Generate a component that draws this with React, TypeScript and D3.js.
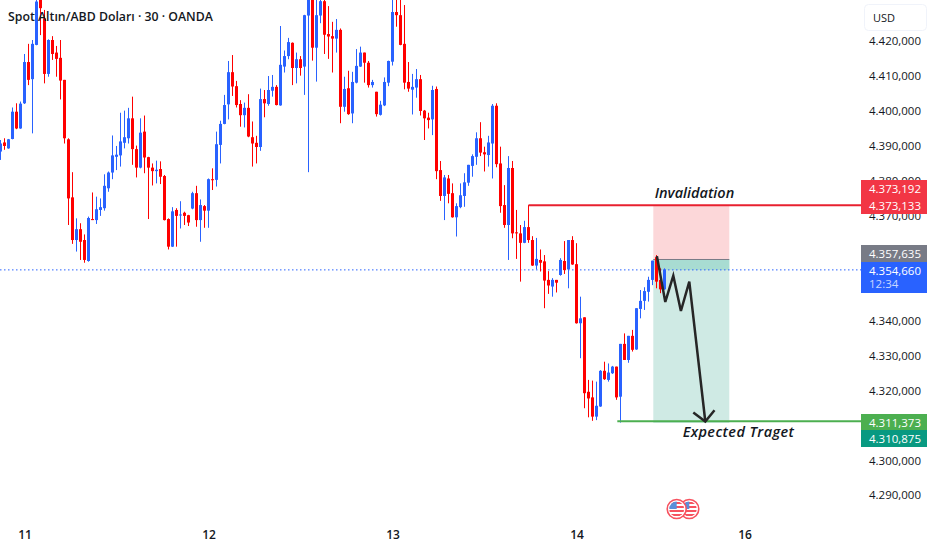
import * as React from "react";
import * as d3 from "d3";

// 30 minute candles, one entry per bar
const opens = [
    4388.5, 4391.1, 4389.4, 4392.1, 4399.9, 4395.1, 4402.3, 4414.1, 4409.2, 4419.0,
    4432.3, 4426.6, 4410.7, 4420.4, 4416.8, 4415.3, 4409.0, 4392.0, 4375.4, 4363.2,
    4366.3, 4363.2, 4357.2, 4369.2, 4368.9, 4371.8, 4372.3, 4378.0, 4382.5, 4387.0,
    4387.4, 4391.0, 4392.3, 4398.0, 4389.2, 4383.9, 4394.2, 4386.9, 4383.9, 4382.9,
    4383.5, 4381.5, 4369.2, 4361.3, 4371.8, 4370.4, 4371.0, 4370.3, 4372.2, 4376.6,
    4368.9, 4372.9, 4371.6, 4380.6, 4380.4, 4390.4, 4396.4, 4402.0, 4411.2, 4407.2,
    4402.1, 4398.9, 4401.0, 4392.6, 4391.0, 4389.8, 4403.5, 4402.1, 4405.9, 4407.0,
    4401.7, 4412.8, 4415.8, 4419.6, 4412.4, 4414.9, 4412.8, 4427.4, 4432.3, 4418.2,
    4427.4, 4431.5, 4422.1, 4421.5, 4420.8, 4423.3, 4401.3, 4406.6, 4399.4, 4408.2,
    4412.8, 4416.8, 4413.9, 4407.5, 4405.6, 4399.0, 4401.7, 4408.2, 4414.2, 4428.4,
    4427.5, 4419.3, 4408.4, 4406.2, 4406.8, 4409.2, 4400.2, 4398.2, 4397.7, 4406.4,
    4383.2, 4375.8, 4380.8, 4376.6, 4369.7, 4372.6, 4375.8, 4379.6, 4384.4, 4387.0,
    4392.3, 4388.3, 4387.5, 4390.8, 4401.6, 4385.1, 4373.2, 4367.5, 4383.8, 4365.4,
    4365.1, 4362.4, 4366.9, 4363.2, 4355.9, 4357.5, 4357.1, 4351.8, 4349.9, 4351.8,
    4353.2, 4357.2, 4354.8, 4363.2, 4356.3, 4339.4, 4341.1, 4319.8, 4318.2, 4312.7,
    4315.6, 4325.8, 4323.2, 4325.1, 4327.0, 4318.4, 4333.5, 4328.9, 4335.8, 4331.9,
    4343.5, 4345.8, 4348.4, 4351.8, 4358.3, 4351.8, 4349.1,
];
const highs = [
    4391.8, 4392.3, 4392.1, 4401.1, 4402.3, 4402.8, 4416.4, 4419.3, 4420.4, 4432.3,
    4432.8, 4429.0, 4420.6, 4421.5, 4418.7, 4420.4, 4409.0, 4392.3, 4382.6, 4369.4,
    4368.0, 4364.8, 4369.9, 4376.8, 4375.6, 4375.1, 4382.0, 4382.8, 4393.1, 4390.1,
    4399.6, 4400.2, 4401.0, 4404.2, 4390.2, 4398.0, 4398.8, 4387.0, 4385.1, 4385.9,
    4385.7, 4381.8, 4369.4, 4372.6, 4372.3, 4374.3, 4371.3, 4370.4, 4377.0, 4378.7,
    4374.8, 4373.2, 4380.8, 4383.7, 4394.2, 4397.3, 4404.7, 4414.4, 4416.1, 4408.7,
    4403.2, 4402.5, 4404.9, 4397.1, 4393.0, 4406.5, 4406.1, 4410.1, 4410.4, 4407.5,
    4424.4, 4417.4, 4421.0, 4419.7, 4416.8, 4415.8, 4427.6, 4433.7, 4432.8, 4432.8,
    4432.8, 4432.3, 4430.1, 4425.6, 4426.4, 4423.7, 4409.9, 4411.6, 4411.3, 4417.8,
    4418.5, 4416.8, 4414.4, 4409.0, 4405.6, 4403.0, 4409.7, 4414.5, 4432.3, 4432.3,
    4432.3, 4430.4, 4414.1, 4410.7, 4412.1, 4410.4, 4400.4, 4399.6, 4407.3, 4407.1,
    4385.8, 4381.8, 4381.8, 4379.4, 4373.7, 4379.4, 4382.3, 4384.7, 4387.7, 4394.0,
    4396.9, 4389.9, 4393.0, 4402.1, 4402.3, 4389.9, 4378.9, 4387.2, 4385.8, 4371.8,
    4367.5, 4368.7, 4373.2, 4364.3, 4363.8, 4360.5, 4358.9, 4354.3, 4352.3, 4351.8,
    4358.0, 4362.9, 4363.2, 4364.3, 4362.3, 4347.0, 4341.1, 4323.2, 4323.0, 4322.7,
    4326.0, 4328.4, 4327.9, 4327.2, 4327.0, 4333.5, 4336.5, 4335.8, 4337.5, 4343.7,
    4348.9, 4349.7, 4352.7, 4357.3, 4358.9, 4355.1, 4355.1,
];
const lows = [
    4386.1, 4389.0, 4389.3, 4392.0, 4394.9, 4395.0, 4402.1, 4407.5, 4393.7, 4418.9,
    4421.8, 4408.0, 4409.9, 4414.7, 4409.9, 4403.4, 4390.8, 4367.5, 4362.1, 4359.9,
    4357.5, 4356.7, 4357.0, 4368.9, 4367.8, 4370.1, 4371.6, 4377.0, 4380.6, 4383.2,
    4384.2, 4389.4, 4390.8, 4384.7, 4381.1, 4383.7, 4382.3, 4369.2, 4378.8, 4379.4,
    4379.2, 4368.8, 4360.5, 4361.2, 4361.3, 4366.5, 4367.5, 4367.2, 4372.0, 4367.0,
    4362.7, 4366.7, 4366.7, 4377.5, 4378.5, 4385.1, 4396.3, 4397.7, 4404.4, 4401.1,
    4395.6, 4395.4, 4392.6, 4384.2, 4385.1, 4388.7, 4398.3, 4401.6, 4404.2, 4401.7,
    4401.6, 4411.1, 4414.9, 4407.5, 4408.0, 4410.2, 4404.7, 4382.6, 4414.5, 4408.5,
    4425.2, 4416.4, 4415.0, 4411.1, 4416.8, 4396.6, 4399.9, 4399.0, 4396.6, 4408.0,
    4412.7, 4408.2, 4406.8, 4406.8, 4398.5, 4398.8, 4401.5, 4407.2, 4413.1, 4424.2,
    4418.9, 4406.3, 4405.6, 4399.1, 4403.9, 4398.8, 4391.8, 4395.1, 4393.2, 4380.6,
    4374.4, 4368.9, 4373.7, 4369.6, 4364.2, 4372.3, 4372.7, 4378.7, 4381.3, 4384.7,
    4387.2, 4382.8, 4384.2, 4380.8, 4384.0, 4371.0, 4366.7, 4357.5, 4363.7, 4357.8,
    4351.3, 4362.3, 4362.4, 4355.8, 4354.8, 4354.2, 4343.7, 4347.8, 4347.0, 4348.2,
    4353.0, 4353.5, 4349.4, 4356.1, 4339.3, 4329.4, 4315.1, 4312.5, 4311.5, 4311.7,
    4315.5, 4323.2, 4322.7, 4324.9, 4317.5, 4311.0, 4328.9, 4328.1, 4331.3, 4331.8,
    4340.8, 4343.2, 4345.6, 4350.3, 4349.4, 4348.0, 4349.0,
];
const closes = [
    4390.8, 4390.1, 4392.0, 4399.9, 4395.1, 4402.2, 4414.1, 4409.0, 4419.3, 4431.4,
    4429.5, 4410.7, 4420.4, 4416.4, 4415.0, 4408.8, 4392.3, 4375.1, 4363.2, 4366.3,
    4362.7, 4357.5, 4369.5, 4368.9, 4372.0, 4372.6, 4378.7, 4382.5, 4387.4, 4387.6,
    4391.4, 4392.6, 4398.0, 4389.2, 4383.9, 4393.9, 4386.8, 4383.9, 4382.9, 4383.3,
    4381.3, 4368.9, 4361.3, 4371.4, 4370.1, 4370.5, 4370.1, 4368.2, 4376.6, 4368.9,
    4373.2, 4371.6, 4380.6, 4380.3, 4390.6, 4396.4, 4401.8, 4411.2, 4407.1, 4401.8,
    4398.9, 4401.0, 4392.8, 4390.8, 4389.8, 4403.5, 4402.3, 4406.1, 4407.0, 4401.8,
    4413.3, 4415.8, 4419.8, 4412.4, 4414.9, 4412.4, 4427.5, 4432.8, 4418.2, 4427.5,
    4431.5, 4421.9, 4421.4, 4420.8, 4423.3, 4401.3, 4406.4, 4399.2, 4408.4, 4413.0,
    4416.8, 4413.9, 4407.5, 4408.4, 4399.2, 4401.9, 4408.4, 4414.4, 4428.4, 4427.5,
    4419.0, 4408.2, 4406.5, 4407.0, 4409.2, 4400.1, 4398.0, 4397.5, 4406.1, 4382.9,
    4375.8, 4381.1, 4376.4, 4369.7, 4372.9, 4376.0, 4379.7, 4384.7, 4387.2, 4392.3,
    4388.2, 4387.7, 4391.1, 4401.6, 4384.9, 4372.9, 4367.5, 4383.8, 4365.1, 4365.1,
    4362.4, 4366.9, 4363.2, 4355.9, 4357.8, 4356.7, 4351.6, 4350.2, 4351.8, 4351.0,
    4357.5, 4354.6, 4363.2, 4356.2, 4339.4, 4340.8, 4319.4, 4317.9, 4312.7, 4315.8,
    4325.8, 4323.4, 4325.3, 4327.0, 4318.2, 4333.5, 4328.9, 4335.8, 4331.8, 4343.7,
    4345.8, 4348.6, 4351.8, 4357.3, 4351.3, 4349.1, 4354.8,
];

const dayBars = [6, 52, 98, 144, 186];
const dayLabels = ["11", "12", "13", "14", "16"];
// 4310, 4350 and 4360 sit behind the price tags, so they are left out
const priceTicks = [4290, 4300, 4320, 4330, 4340, 4370, 4380, 4390, 4400, 4410, 4420];

const lastPrice = 4354.66;
const stopPrice = 4373.192;
const invalidationPrice = 4373.133;
const entryPrice = 4357.635;
const targetLinePrice = 4311.373;
const targetPrice = 4310.875;
const positionBars = [163.2, 182.2];
const invalidationStartBar = 132;
const targetStartBar = 154.2;

const pathBars = [164.1, 166.2, 168.2, 170.1, 172.2, 176.2];
const pathPrices = [4358.6, 4345.5, 4353.0, 4342.9, 4351.3, 4311.3];
const headBars = [173.2, 176.2, 178.5];
const headPrices = [4313.9, 4311.3, 4314.5];

const fmt = (v: number) => {
    const s = v.toFixed(3);
    return `${s[0]}.${s.slice(1, 4)},${s.slice(5)}`;
};

export default function App() {
    const svgRef = React.useRef<SVGSVGElement>(null);

    React.useEffect(() => {
        const svg = d3.select(svgRef.current);
        svg.selectAll("*").remove();

        const x = d3.scaleLinear().domain([0, 186]).range([0.5, 744.5]);
        const y = d3.scaleLinear().domain([4290, 4420]).range([496, 41.4]);
        const axisFont = "'Open Sans', sans-serif";

        const defs = svg.append("defs");
        defs.append("clipPath").attr("id", "plot")
            .append("rect").attr("width", 861).attr("height", 520);

        const plot = svg.append("g").attr("clip-path", "url(#plot)");

        // position tool
        const boxX = x(positionBars[0]);
        const boxW = x(positionBars[1]) - boxX;
        plot.append("rect").attr("x", boxX).attr("y", y(stopPrice)).attr("width", boxW)
            .attr("height", y(entryPrice) - y(stopPrice)).attr("fill", "#fcd7d9");
        plot.append("rect").attr("x", boxX).attr("y", y(entryPrice)).attr("width", boxW)
            .attr("height", y(targetPrice) - y(entryPrice)).attr("fill", "#cfeae4");
        plot.append("rect").attr("x", boxX).attr("y", y(entryPrice)).attr("width", boxW)
            .attr("height", y(lastPrice) - y(entryPrice)).attr("fill", "#a8dcd2");
        plot.append("line").attr("x1", boxX).attr("x2", boxX + boxW)
            .attr("y1", y(entryPrice)).attr("y2", y(entryPrice))
            .attr("stroke", "#787b86").attr("stroke-width", 1);

        // last price
        plot.append("line").attr("x1", 0).attr("x2", 861)
            .attr("y1", y(lastPrice)).attr("y2", y(lastPrice))
            .attr("stroke", "#2962ff").attr("stroke-width", 1).attr("stroke-dasharray", "1.5 2.5");

        // candles
        const bars = d3.range(opens.length);
        const colour = (i: number) => (closes[i] >= opens[i] ? "#2962ff" : "#ff0000");
        plot.selectAll("line.wick").data(bars).enter().append("line")
            .attr("class", "wick")
            .attr("x1", (i) => x(i)).attr("x2", (i) => x(i))
            .attr("y1", (i) => y(highs[i])).attr("y2", (i) => y(lows[i]))
            .attr("stroke", colour).attr("stroke-width", 1);
        plot.selectAll("rect.body").data(bars).enter().append("rect")
            .attr("class", "body")
            .attr("x", (i) => x(i) - 1.5).attr("width", 3)
            .attr("y", (i) => y(Math.max(opens[i], closes[i])))
            .attr("height", (i) => Math.max(1, Math.abs(y(opens[i]) - y(closes[i]))))
            .attr("fill", colour);

        // levels
        plot.append("line").attr("x1", x(invalidationStartBar)).attr("x2", 861)
            .attr("y1", y(invalidationPrice)).attr("y2", y(invalidationPrice))
            .attr("stroke", "#e8202f").attr("stroke-width", 2);
        plot.append("line").attr("x1", x(targetStartBar)).attr("x2", 861)
            .attr("y1", y(targetLinePrice)).attr("y2", y(targetLinePrice))
            .attr("stroke", "#4caf50").attr("stroke-width", 2);

        // hand drawn path
        const pathLine = d3.line<number>().x((d) => x(pathBars[d])).y((d) => y(pathPrices[d]));
        plot.append("path").attr("d", pathLine(d3.range(pathBars.length)))
            .attr("fill", "none").attr("stroke", "#262626").attr("stroke-width", 2.5);
        const headLine = d3.line<number>().x((d) => x(headBars[d])).y((d) => y(headPrices[d]));
        plot.append("path").attr("d", headLine(d3.range(headBars.length)))
            .attr("fill", "none").attr("stroke", "#262626").attr("stroke-width", 2.5);

        // title and notes
        svg.append("text").text("Spot Altın/ABD Doları · 30 · OANDA")
            .attr("x", 8).attr("y", 21)
            .attr("font-family", axisFont).attr("font-size", 12.3).attr("font-weight", 600)
            .attr("fill", "#131722");
        svg.append("text").text("Invalidation")
            .attr("x", 694.5).attr("y", 198)
            .attr("text-anchor", "middle").attr("font-family", axisFont)
            .attr("font-size", 14.5).attr("font-style", "italic").attr("font-weight", 600)
            .attr("fill", "#131722");
        svg.append("text").text("Expected Traget")
            .attr("x", 738.5).attr("y", 437)
            .attr("text-anchor", "middle").attr("font-family", axisFont)
            .attr("font-size", 14.5).attr("font-style", "italic").attr("font-weight", 600)
            .attr("letter-spacing", 0.4).attr("fill", "#131722");

        // axes
        const priceAxis = d3.axisRight(y).tickValues(priceTicks)
            .tickFormat((d) => fmt(d as number)).tickSize(0).tickPadding(0);
        const priceG = svg.append("g").attr("transform", "translate(869,-0.7)").call(priceAxis);
        priceG.select(".domain").remove();
        priceG.selectAll("text").attr("font-family", axisFont).attr("font-size", 11.5)
            .attr("fill", "#131722");

        const dayAxis = d3.axisBottom(x).tickValues(dayBars)
            .tickFormat((_, i) => dayLabels[i]).tickSize(0).tickPadding(0);
        const dayG = svg.append("g").attr("transform", "translate(0,530)").call(dayAxis);
        dayG.select(".domain").remove();
        dayG.selectAll("text").attr("font-family", axisFont).attr("font-size", 12)
            .attr("font-weight", 600).attr("fill", "#131722");

        // price tags
        const tags = [
            { top: 180, bottom: 197, fill: "#f23645", text: fmt(stopPrice), sub: "" },
            { top: 197, bottom: 214, fill: "#f23645", text: fmt(invalidationPrice), sub: "" },
            { top: 245, bottom: 262, fill: "#787b86", text: fmt(entryPrice), sub: "" },
            { top: 262, bottom: 293, fill: "#2962ff", text: fmt(lastPrice), sub: "12:34" },
            { top: 414, bottom: 430, fill: "#4caf50", text: fmt(targetLinePrice), sub: "" },
            { top: 430, bottom: 447, fill: "#089981", text: fmt(targetPrice), sub: "" },
        ];
        const tagG = svg.append("g");
        tagG.selectAll("rect").data(tags).enter().append("rect")
            .attr("x", 861).attr("width", 66).attr("y", (d) => d.top)
            .attr("height", (d) => d.bottom - d.top).attr("fill", (d) => d.fill);
        tagG.selectAll("text.val").data(tags).enter().append("text")
            .attr("class", "val").text((d) => d.text)
            .attr("x", 869).attr("y", (d) => d.top + 13)
            .attr("font-family", axisFont).attr("font-size", 11.5)
            .attr("fill", "#fff");
        tagG.selectAll("text.sub").data(tags.filter((d) => d.sub)).enter().append("text")
            .attr("class", "sub").text((d) => d.sub)
            .attr("x", 869).attr("y", (d) => d.top + 26)
            .attr("font-family", axisFont).attr("font-size", 11.5)
            .attr("fill", "#fff").attr("fill-opacity", 0.75);

        // currency button
        svg.append("rect").attr("x", 864.5).attr("y", 4.5).attr("width", 62).attr("height", 26).attr("rx", 4)
            .attr("fill", "#fff").attr("stroke", "#f0f3fa");
        svg.append("text").text("USD").attr("x", 873).attr("y", 22)
            .attr("font-family", axisFont).attr("font-size", 11).attr("fill", "#131722");

        // news flags
        [689.3, 676.7].forEach((cx, k) => {
            const id = `flag${k}`;
            defs.append("clipPath").attr("id", id)
                .append("circle").attr("cx", cx).attr("cy", 509).attr("r", 7.5);
            const g = svg.append("g");
            g.append("circle").attr("cx", cx).attr("cy", 509).attr("r", 9.5)
                .attr("fill", "#fff").attr("stroke", "#f7525f").attr("stroke-width", 1.6);
            const inner = g.append("g").attr("clip-path", `url(#${id})`);
            d3.range(4).forEach((r) => {
                inner.append("rect").attr("x", cx - 8).attr("y", 502 + r * 4).attr("width", 16).attr("height", 2)
                    .attr("fill", "#f7525f");
            });
            inner.append("rect").attr("x", cx - 8).attr("y", 501).attr("width", 8).attr("height", 8)
                .attr("fill", "#5b8fd9");
        });
    }, []);

    return (
        <svg
            ref={svgRef}
            width={932}
            height={550}
            style={{ position: "absolute", left: 0, top: 0, background: "#fff" }}
        />
    );
}
